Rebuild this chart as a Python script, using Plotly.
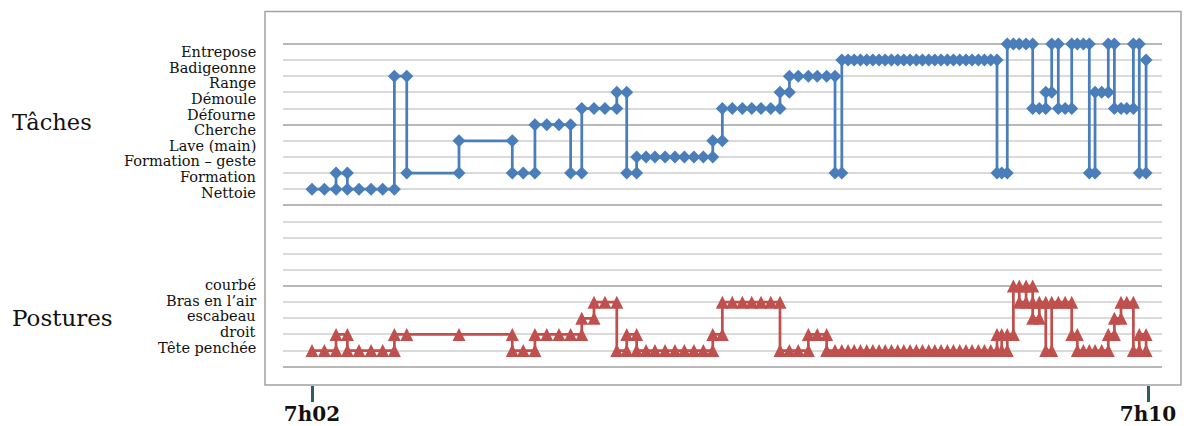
import plotly.graph_objects as go

# ---------------- categories ----------------
TASKS = ["Nettoie", "Formation", "Formation – geste", "Lave (main)", "Cherche",
         "Défourne", "Démoule", "Range", "Badigeonne", "Entrepose"]
POSTURES = ["Tête penchée", "droit", "escabeau", "Bras en l’air", "courbé"]
N, F, FG, L, C, DF, DM, R, B, E = TASKS
TP, D, S, BA, CO = POSTURES

# time axis (seconds after 7h02)
TICK_VALS = [0, 480]
TICK_TEXT = ["7h02", "7h10"]

# ---------------- tasks series ----------------
task_t = [0, 7.1, 13.8, 13.8, 20.3, 20.3, 27.0, 33.9, 40.6, 47.3,
          47.3, 54.4, 54.4, 84.4, 84.4, 115.0, 115.0, 121.3, 128.0, 128.0,
          134.8, 141.8, 148.5, 148.5, 154.9, 154.9, 161.9, 168.2, 175.0, 175.0,
          180.7, 180.7, 186.4, 186.4, 191.8, 196.9, 202.7, 208.4, 213.8, 219.3,
          224.7, 230.1, 230.1, 235.6, 235.6, 241.3, 247.1, 252.5, 257.8, 263.4,
          268.7, 268.7, 274.1, 274.1, 279.2, 285.0, 290.1, 295.5, 300.3, 300.3,
          304.2, 304.2, 307.8, 311.3, 314.9, 318.5, 322.0, 325.6, 329.1, 332.7,
          336.3, 339.8, 343.4, 347.0, 350.5, 354.1, 357.6, 361.2, 364.8, 368.3,
          371.9, 375.5, 379.0, 382.6, 386.1, 389.7, 393.3, 393.3, 396.0, 399.2,
          399.2, 402.7, 406.1, 410.0, 413.8, 413.8, 417.6, 421.3, 421.3, 424.7,
          424.7, 428.5, 428.5, 432.4, 436.2, 436.2, 439.4, 442.9, 446.3, 446.3,
          449.6, 449.6, 453.4, 457.2, 457.2, 460.7, 460.7, 464.5, 467.8, 471.6,
          471.6, 475.0, 475.0, 478.9, 478.9]
task_v = [N, N, N, F, F, N, N, N, N, N,
          R, R, F, F, L, L, F, F, F, C,
          C, C, C, F, F, DF, DF, DF, DF, DM,
          DM, F, F, FG, FG, FG, FG, FG, FG, FG,
          FG, FG, L, L, DF, DF, DF, DF, DF, DF,
          DF, DM, DM, R, R, R, R, R, R, F,
          F, B, B, B, B, B, B, B, B, B,
          B, B, B, B, B, B, B, B, B, B,
          B, B, B, B, B, B, B, F, F, F,
          E, E, E, E, E, DF, DF, DF, DM, DM,
          E, E, DF, DF, DF, E, E, E, E, F,
          F, DM, DM, DM, E, E, DF, DF, DF, DF,
          E, E, F, F, B]

# ---------------- postures series ----------------
post_t = [0, 7.1, 13.8, 13.8, 20.3, 20.3, 27.0, 33.9, 40.6, 47.3,
          47.3, 54.4, 84.4, 115.0, 115.0, 121.3, 128.0, 128.0, 134.8, 141.8,
          148.5, 154.9, 154.9, 161.9, 161.9, 168.2, 175.0, 175.0, 180.7, 180.7,
          186.4, 186.4, 191.8, 196.9, 202.7, 208.4, 213.8, 219.3, 224.7, 230.1,
          230.1, 235.6, 235.6, 241.3, 247.1, 252.5, 257.8, 263.4, 268.7, 268.7,
          274.1, 279.2, 285.0, 285.0, 290.1, 295.5, 295.5, 300.3, 304.2, 307.8,
          311.3, 314.9, 318.5, 322.0, 325.6, 329.1, 332.7, 336.3, 339.8, 343.4,
          347.0, 350.5, 354.1, 357.6, 361.2, 364.8, 368.3, 371.9, 375.5, 379.0,
          382.6, 386.1, 389.7, 393.3, 393.3, 396.0, 396.0, 399.2, 399.2, 402.7,
          402.7, 406.1, 406.1, 410.0, 410.0, 413.8, 413.8, 413.8, 417.6, 417.6,
          421.3, 421.3, 424.7, 424.7, 428.5, 432.4, 436.2, 436.2, 439.4, 439.4,
          442.9, 446.3, 449.6, 453.4, 457.2, 457.2, 460.7, 460.7, 464.5, 464.5,
          467.8, 471.6, 471.6, 475.0, 475.0, 478.9, 478.9]
post_v = [TP, TP, TP, D, D, TP, TP, TP, TP, TP,
          D, D, D, D, TP, TP, TP, D, D, D,
          D, D, S, S, BA, BA, BA, TP, TP, D,
          D, TP, TP, TP, TP, TP, TP, TP, TP, TP,
          D, D, BA, BA, BA, BA, BA, BA, BA, TP,
          TP, TP, TP, D, D, D, TP, TP, TP, TP,
          TP, TP, TP, TP, TP, TP, TP, TP, TP, TP,
          TP, TP, TP, TP, TP, TP, TP, TP, TP, TP,
          TP, TP, TP, TP, D, D, TP, TP, D, D,
          CO, CO, BA, BA, CO, CO, BA, S, S, BA,
          BA, TP, TP, BA, BA, BA, BA, D, D, TP,
          TP, TP, TP, TP, TP, D, D, S, S, BA,
          BA, BA, TP, TP, D, D, TP]
assert len(task_t) == len(task_v) and len(post_t) == len(post_v)

# ---------------- style ----------------
BLUE = "#4a7ebb"
RED = "#c0504d"
TEAL = "#2f5e5c"
MAJ_GRID = "#b8b8b8"
MIN_GRID = "#dadada"
SERIF = "DejaVu Serif"
TASK_BASE = 11      # first task row on the value axis
POSTURE_BASE = 1    # first posture row
N_ROWS = 21

W, H = 1195, 426
ML, MR, MT, MB = 283, 33, 27, 41
PLOT_W = W - ML - MR
PLOT_H = H - MT - MB
Y_RANGE = [-1.13, 21.05]
PX_PER_UNIT = PLOT_H / (Y_RANGE[1] - Y_RANGE[0])
TRI = 13                      # triangle marker size (px)
TRI_SHIFT = (TRI / 2) / PX_PER_UNIT

task_y = [TASK_BASE + TASKS.index(v) for v in task_v]
post_y = [POSTURE_BASE + POSTURES.index(v) for v in post_v]

fig = go.Figure()
fig.add_trace(go.Scatter(
    x=task_t, y=task_y, mode="lines+markers",
    line=dict(color=BLUE, width=2.75),
    marker=dict(symbol="diamond", size=10, color=BLUE, line=dict(width=0)),
    showlegend=False, hoverinfo="skip"))
fig.add_trace(go.Scatter(
    x=post_t, y=post_y, mode="lines",
    line=dict(color=RED, width=2.75),
    showlegend=False, hoverinfo="skip"))
fig.add_trace(go.Scatter(
    x=post_t, y=post_y, mode="markers", yaxis="y2",
    marker=dict(symbol="arrow-up", size=TRI, color=RED, line=dict(width=0)),
    showlegend=False, hoverinfo="skip"))


def px_x(px):
    return (px - ML) / PLOT_W


def px_y(py):
    return (H - MB - py) / PLOT_H


annotations = []
for i, name in enumerate(TASKS):
    annotations.append(dict(
        text=name, xref="paper", yref="y", x=px_x(257.5), y=TASK_BASE + i,
        xanchor="right", yanchor="middle", yshift=-(3.3 + 0.55 * i),
        showarrow=False, font=dict(family=SERIF, size=14.5, color="#111111")))
for i, name in enumerate(POSTURES):
    annotations.append(dict(
        text=name, xref="paper", yref="y", x=px_x(257.5), y=POSTURE_BASE + i,
        xanchor="right", yanchor="middle", yshift=3 - 0.5 * i,
        showarrow=False, font=dict(family=SERIF, size=14.5, color="#111111")))
annotations.append(dict(
    text="Tâches", xref="paper", yref="paper", x=px_x(10), y=px_y(122),
    xanchor="left", yanchor="middle", showarrow=False,
    font=dict(family=SERIF, size=22.5, color="#111111")))
annotations.append(dict(
    text="Postures", xref="paper", yref="paper", x=px_x(10), y=px_y(318),
    xanchor="left", yanchor="middle", showarrow=False,
    font=dict(family=SERIF, size=23, color="#111111")))

px_per_s = (1148 - 312) / (TICK_VALS[1] - TICK_VALS[0])
x_range = [TICK_VALS[0] - (312 - ML) / px_per_s,
           TICK_VALS[1] + (W - MR - 1148) / px_per_s]

fig.update_layout(
    width=W, height=H, autosize=False,
    margin=dict(l=ML, r=MR, t=MT, b=MB, pad=0),
    paper_bgcolor="white", plot_bgcolor="white",
    showlegend=False,
    xaxis=dict(
        range=x_range, tickmode="array", tickvals=TICK_VALS, ticktext=TICK_TEXT,
        ticks="outside", ticklen=16, tickwidth=3, tickcolor=TEAL,
        ticklabelstandoff=-5, automargin=False,
        showgrid=False, zeroline=False, showline=False,
        tickfont=dict(family=SERIF, size=20, color="#111111", weight="bold")),
    yaxis=dict(
        range=Y_RANGE, tickmode="array", automargin=False,
        tickvals=[v for v in range(N_ROWS + 1) if v % 5 == 0],
        showgrid=True, gridcolor=MAJ_GRID, gridwidth=1.5,
        showticklabels=False, zeroline=False, showline=False, ticks="",
        minor=dict(tickmode="array",
                   tickvals=[v for v in range(N_ROWS + 1) if v % 5],
                   showgrid=True, gridcolor=MIN_GRID, gridwidth=1.5, ticks="")),
    yaxis2=dict(
        overlaying="y", range=[Y_RANGE[0] - TRI_SHIFT, Y_RANGE[1] - TRI_SHIFT],
        visible=False, automargin=False),
    shapes=[dict(type="rect", xref="paper", yref="paper",
                 x0=px_x(265), x1=px_x(1181), y0=px_y(385), y1=px_y(11.5),
                 line=dict(color="#a3a3a3", width=1.5), layer="above")],
    annotations=annotations,
)

fig.write_html(
    "out.html",
    config={"responsive": False, "displayModeBar": False},
    post_script="document.body.style.margin='0';document.body.style.overflow='hidden';",
)
